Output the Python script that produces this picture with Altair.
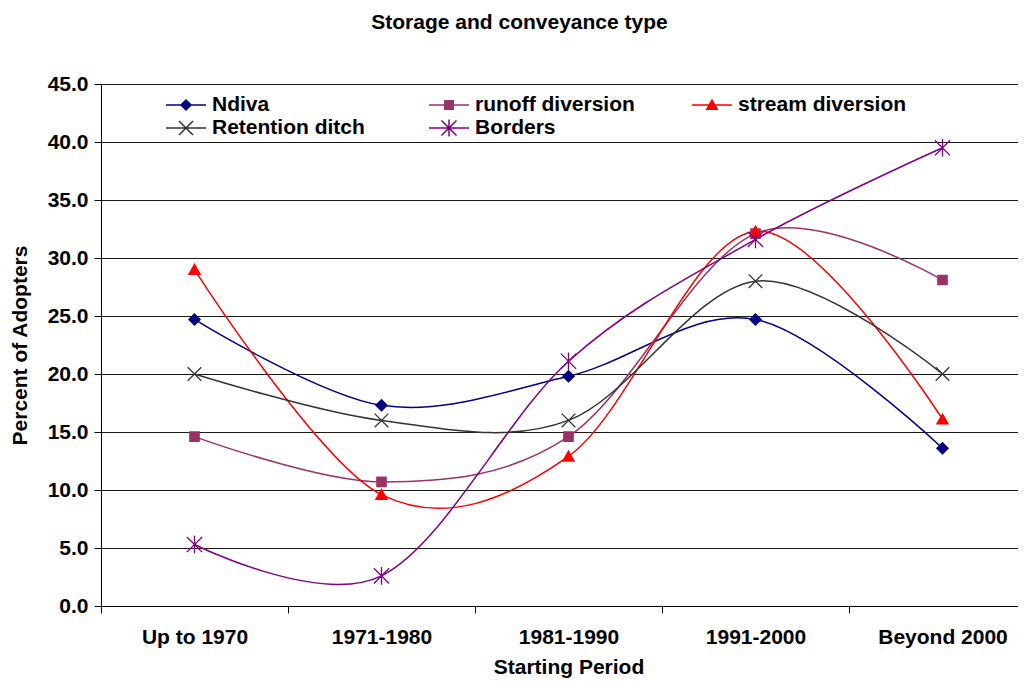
import altair as alt
import pandas as pd

periods = ["Up to 1970", "1971-1980", "1981-1990", "1991-2000", "Beyond 2000"]
series = ["Ndiva", "runoff diversion", "stream diversion", "Retention ditch", "Borders"]
ndiva = [24.7, 17.3, 19.8, 24.7, 13.6]
runoff = [14.6, 10.7, 14.6, 32.1, 28.1]
stream = [29.0, 9.6, 12.9, 32.3, 16.1]
retention = [20.0, 16.0, 16.0, 28.0, 20.0]
borders = [5.3, 2.6, 21.1, 31.6, 39.5]
colors = ["#000080", "#993366", "#FF0000", "#333333", "#800080"]
y_ticks = [0, 5, 10, 15, 20, 25, 30, 35, 40, 45]

values = [ndiva, runoff, stream, retention, borders]
rows = []
for s, vals in zip(series, values):
    for p, v in zip(periods, vals):
        rows.append({"period": p, "series": s, "value": v})
df = pd.DataFrame(rows)

FONT = "Liberation Sans"

# marker shapes for the plotted points
point_paths = [
    "M0,-0.7L0.7,0L0,0.7L-0.7,0Z",
    "M-0.58,-0.58H0.58V0.58H-0.58Z",
    "M0,-0.66L0.7,0.58L-0.7,0.58Z",
    "M-0.85,-0.85L0.85,0.85M-0.85,0.85L0.85,-0.85",
    "M-0.95,-0.95L0.95,0.95M-0.95,0.95L0.95,-0.95M0,-1.1V1.1",
]
# legend symbols: line segment with marker in the middle
legend_paths = [
    "M-2,0H2M0,-0.5L0.5,0L0,0.5L-0.5,0Z",
    "M-2,0H2M-0.42,-0.42H0.42V0.42H-0.42Z",
    "M-2,0H2M0,-0.5L0.52,0.42L-0.52,0.42Z",
    "M-2,0H2M-0.7,-0.7L0.7,0.7M-0.7,0.7L0.7,-0.7",
    "M-2,0H2M-0.75,-0.75L0.75,0.75M-0.75,0.75L0.75,-0.75M0,-0.85V0.85",
]

x_enc = alt.X(
    "period:N",
    sort=periods,
    bandPosition=0.5,
    scale=alt.Scale(type="band", domain=periods, paddingInner=0, paddingOuter=0, range=[0, 935]),
    axis=alt.Axis(
        title="Starting Period",
        tickBand="extent",
        labelAngle=0,
        labelFont=FONT,
        labelFontSize=21,
        labelFontWeight="bold",
        labelColor="black",
        labelPadding=13,
        tickSize=7,
        tickColor="black",
        domainColor="black",
        titleFont=FONT,
        titleFontSize=21,
        titleFontWeight="bold",
        titleColor="black",
        titlePadding=9,
        grid=False,
    ),
)
y_enc = alt.Y(
    "value:Q",
    scale=alt.Scale(domain=[0, 45], nice=False),
    axis=alt.Axis(
        title="Percent of Adopters",
        values=y_ticks,
        format=".1f",
        labelFont=FONT,
        labelFontSize=21,
        labelFontWeight="bold",
        labelColor="black",
        labelPadding=6,
        tickSize=7,
        tickColor="black",
        domainColor="black",
        grid=True,
        gridColor="#1a1a1a",
        gridWidth=1,
        titleFont=FONT,
        titleFontSize=21,
        titleFontWeight="bold",
        titleColor="black",
        titlePadding=17,
    ),
)

legend = alt.Legend(
    title=None,
    orient="none",
    direction="horizontal",
    legendX=74,
    legendY=9,
    columns=3,
    gridAlign="all",
    columnPadding=45,
    rowPadding=0,
    padding=0,
    labelFont=FONT,
    labelFontSize=21,
    labelFontWeight="bold",
    labelColor="black",
    labelOffset=15,
    labelLimit=400,
    symbolSize=400,
    symbolStrokeWidth=1.5,
    symbolOpacity=1,
)

color_scale = alt.Scale(domain=series, range=colors)

lines = alt.Chart(df).mark_line(
    interpolate="cardinal", tension=0, strokeWidth=1.5
).encode(
    x=x_enc,
    y=y_enc,
    color=alt.Color("series:N", scale=color_scale, legend=legend),
)

point_layers = []
for s, c, p in zip(series, colors, point_paths):
    point_layers.append(
        alt.Chart(df)
        .transform_filter(alt.datum.series == s)
        .mark_point(shape=p, filled=True, fill=c, stroke=c, size=256, strokeWidth=1.3, opacity=1)
        .encode(x=x_enc, y=y_enc)
    )

legend_layer = alt.Chart(df).mark_point(
    filled=True, size=400, strokeWidth=1.5, opacity=0
).encode(
    x=x_enc,
    y=y_enc,
    color=alt.Color("series:N", scale=color_scale, legend=legend),
    stroke=alt.Stroke("series:N", scale=color_scale, legend=legend),
    shape=alt.Shape("series:N", scale=alt.Scale(domain=series, range=legend_paths), legend=legend),
)

chart = (
    alt.layer(lines, *point_layers, legend_layer)
    .properties(
        width=917,
        height=522,
        title=alt.TitleParams(
            "Storage and conveyance type",
            font=FONT,
            fontSize=21,
            fontWeight="bold",
            color="black",
            anchor="middle",
            dx=-40,
            offset=40,
        ),
        autosize=alt.AutoSizeParams(type="none"),
        padding={"left": 93, "top": 76, "right": 0, "bottom": 74},
    )
    .configure_view(strokeWidth=0)
    .configure(background="white")
)

chart.save("out.html", embed_options={"renderer": "svg", "actions": False})
